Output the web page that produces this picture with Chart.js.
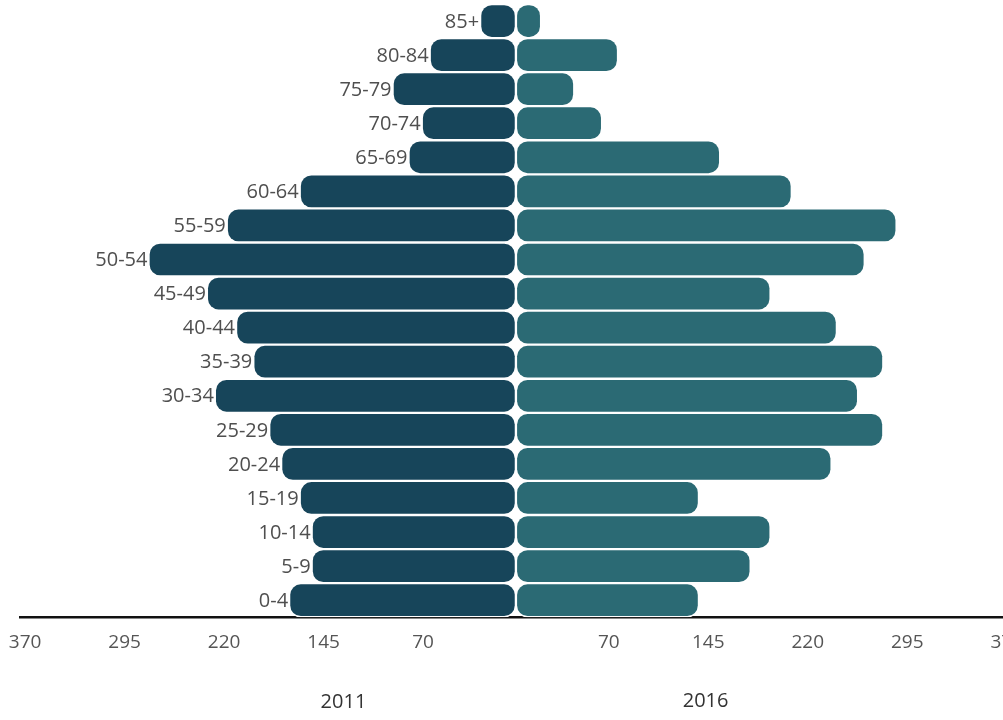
<!DOCTYPE html>
<html>
<head>
<meta charset="utf-8">
<script src="https://cdn.jsdelivr.net/npm/chart.js@4"></script>
<style>
  html, body { margin: 0; padding: 0; background: #fff; overflow: hidden; }
  #wrap { position: absolute; left: -5px; top: 0; width: 1042px; height: 720px; }
</style>
</head>
<body>
<div id="wrap"><canvas id="pyramid"></canvas></div>
<script>
// age groups, bottom to top
var ageGroups = ["0-4","5-9","10-14","15-19","20-24","25-29","30-34","35-39","40-44",
                 "45-49","50-54","55-59","60-64","65-69","70-74","75-79","80-84","85+"];
var years = ["2011", "2016"];
var pop2011 = [171,154,154,163,177,186,227,198,211,233,277,218,163,81,71,93,65,27];
var pop2016 = [138,177,192,138,238,277,258,277,242,192,263,287,208,154,65,44,77,19];
var tickValues = [-370,-295,-220,-145,-70,70,145,220,295,370];

var colors = ["#17455a", "#2b6a74"];

// age labels sit just left of each 2011 bar
var ageLabelPlugin = {
  id: "ageLabels",
  afterDatasetsDraw: function(chart) {
    var ctx = chart.ctx;
    var meta = chart.getDatasetMeta(0);
    ctx.save();
    ctx.font = "20px 'Open Sans'";
    ctx.fillStyle = "#4f4f4f";
    ctx.textAlign = "right";
    ctx.textBaseline = "middle";
    meta.data.forEach(function(bar, i) {
      ctx.fillText(ageGroups[i], bar.x - 1, bar.y + 1);
    });
    ctx.restore();
  }
};

// year captions under each half
var yearPlugin = {
  id: "yearLabels",
  afterDraw: function(chart) {
    var ctx = chart.ctx;
    var x = chart.scales.x;
    ctx.save();
    ctx.font = "20px 'Open Sans'";
    ctx.fillStyle = "#333";
    ctx.textAlign = "center";
    ctx.textBaseline = "middle";
    ctx.fillText(years[0], x.getPixelForValue(-130), 702);
    ctx.fillText(years[1], x.getPixelForValue(143), 701);
    ctx.restore();
  }
};

new Chart(document.getElementById("pyramid"), {
  type: "bar",
  data: {
    labels: ageGroups,
    datasets: [
      {
        label: years[0],
        data: pop2011.map(function(v) { return -v; }),
        backgroundColor: colors[0]
      },
      {
        label: years[1],
        data: pop2016,
        backgroundColor: colors[1]
      }
    ]
  },
  options: {
    indexAxis: "y",
    responsive: true,
    maintainAspectRatio: false,
    animation: false,
    layout: { padding: { left: 0, top: 4, bottom: 52, right: 0 } },
    datasets: {
      bar: {
        categoryPercentage: 1,
        barPercentage: 1,
        borderWidth: 1.5,
        borderColor: "#fff",
        borderSkipped: false,
        borderRadius: 12
      }
    },
    plugins: {
      legend: { display: false },
      tooltip: { enabled: false }
    },
    scales: {
      y: {
        stacked: true,
        reverse: true,
        display: false
      },
      x: {
        stacked: true,
        min: -374,
        max: 370,
        afterBuildTicks: function(scale) {
          scale.ticks = tickValues.map(function(v) { return { value: v }; });
        },
        grid: { display: false, drawTicks: false },
        border: { display: true, color: "#111", width: 2.5 },
        ticks: {
          padding: 14,
          color: "#555",
          font: { family: "'Open Sans'", size: 19 },
          maxRotation: 0,
          autoSkip: false,
          callback: function(v) { return Math.abs(v); }
        }
      }
    }
  },
  plugins: [ageLabelPlugin, yearPlugin]
});
</script>
</body>
</html>
